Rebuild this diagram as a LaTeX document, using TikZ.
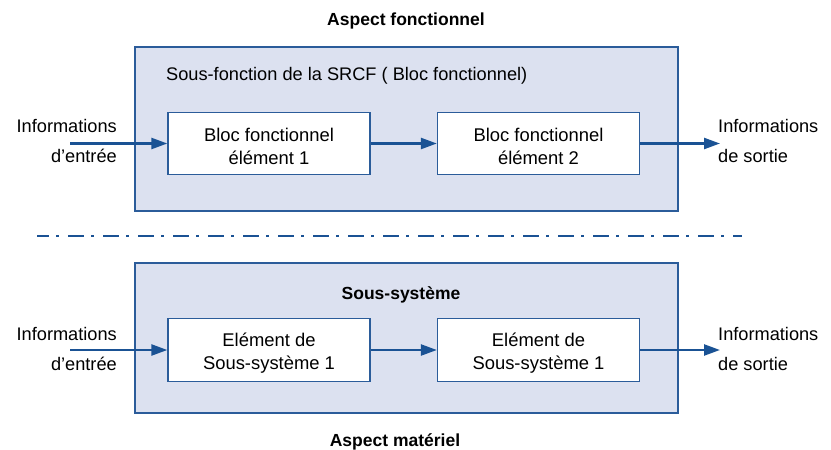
\documentclass[tikz,border=0pt]{standalone}
\usepackage{fontspec}
\setmainfont{Liberation Sans}
\usetikzlibrary{arrows.meta}
\definecolor{frameblue}{HTML}{2B5C9A}
\definecolor{arrowblue}{HTML}{1A5294}
\definecolor{panelfill}{HTML}{DCE1F0}
\begin{document}
\begin{tikzpicture}[x=1pt,y=-1pt,
  panel/.style={draw=frameblue,line width=1.3pt,fill=panelfill,rectangle,
    minimum width=543pt,inner sep=0pt,anchor=center},
  elem/.style={draw=frameblue,line width=1.3pt,fill=white,rectangle,
    minimum width=202pt,minimum height=62.5pt,inner sep=0pt,align=center,
    font=\fontsize{18.4}{23}\selectfont},
  lbl/.style={font=\fontsize{18.2}{30}\selectfont,inner sep=0pt},
  heading/.style={font=\fontsize{17.5}{21}\selectfont\bfseries,inner sep=0pt,anchor=base},
  flow/.style={draw=arrowblue,line width=2.4pt,
    -{Triangle[length=16pt,width=11pt]}},
  separator/.style={draw=arrowblue,line width=2.4pt,
    dash pattern=on 16pt off 7pt on 2.5pt off 9.5pt,dash phase=4pt}
]
\useasboundingbox (0,0) rectangle (831,450);

% functional view
\node[heading] (titleF) at (406,25) {Aspect fonctionnel};
\node[panel,minimum height=164pt] (panelF) at (406.5,129) {};
\node[lbl,anchor=base west] (subF) at (166,80) {Sous-fonction de la SRCF ( Bloc fonctionnel)};
\node[elem] (bf1) at (269,143.5) {\\[-4pt]Bloc fonctionnel\\élément 1};
\node[elem] (bf2) at (538.5,143.5) {\\[-4pt]Bloc fonctionnel\\élément 2};
\node[lbl,anchor=base east,align=right] (inF) at (117,162) {Informations\\d’entrée};
\node[lbl,anchor=base west,align=left] (outF) at (718,162) {Informations\\de sortie};
\coordinate (inFstart) at (70,143.5);
\coordinate (outFend) at (720,143.5);
\draw[flow] (inFstart) -- (bf1.west);
\draw[flow] (bf1.east) -- (bf2.west);
\draw[flow] (bf2.east) -- (outFend);

% separator between the two views
\coordinate (sepL) at (37,236);
\coordinate (sepR) at (742,236);
\draw[separator] (sepL) -- (sepR);

% hardware view
\node[panel,minimum height=150pt] (panelM) at (406.5,338) {};
\node[heading] (subM) at (401,299) {Sous-système};
\node[elem] (ss1) at (269,350) {\\[-4pt]Elément de\\Sous-système 1};
\node[elem] (ss2) at (538.5,350) {\\[-4pt]Elément de\\Sous-système 1};
\node[lbl,anchor=base east,align=right] (inM) at (117,370) {Informations\\d’entrée};
\node[lbl,anchor=base west,align=left] (outM) at (718,370) {Informations\\de sortie};
\coordinate (inMstart) at (70,350);
\coordinate (outMend) at (720,350);
\draw[flow] (inMstart) -- (ss1.west);
\draw[flow] (ss1.east) -- (ss2.west);
\draw[flow] (ss2.east) -- (outMend);
\node[heading] (titleM) at (395,446) {Aspect matériel};
\end{tikzpicture}
\end{document}
